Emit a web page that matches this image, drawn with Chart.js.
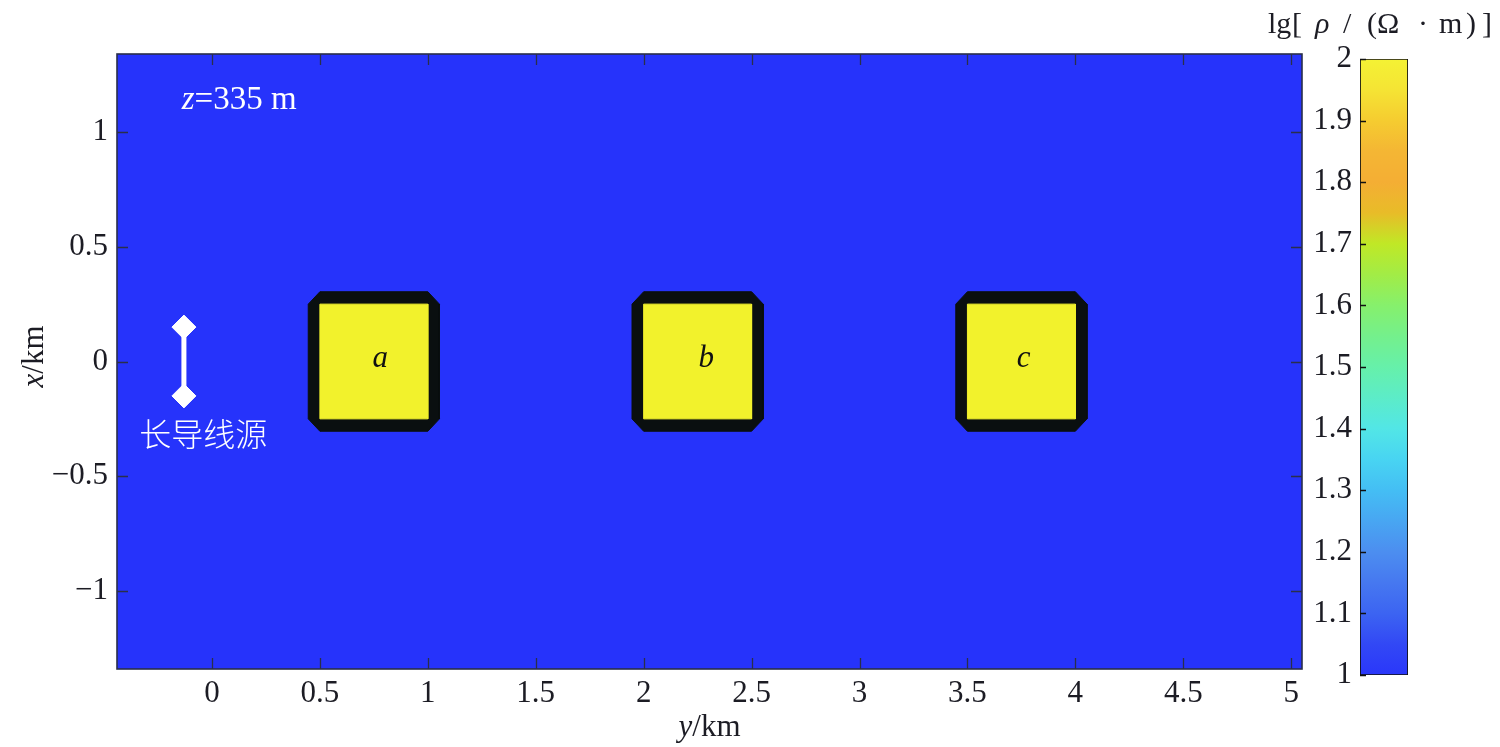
<!DOCTYPE html>
<html><head><meta charset="utf-8">
<script src="https://cdn.jsdelivr.net/npm/chart.js@4"></script>
<style>
html,body{margin:0;padding:0;background:#fff;}
#wrap{position:relative;width:1500px;height:747px;}
canvas{position:absolute;left:0;top:0;}
</style>
</head><body>
<div id="wrap"><canvas id="main" width="1500" height="747"></canvas><canvas id="cbar" width="1500" height="747"></canvas></div>
<script>
// ---- data ----
const hRange = [-0.44, 5.05];      // horizontal axis: y/km
const vRange = [-1.34, 1.34];      // vertical axis: x/km
const axisStep = 0.5;
const blockNames = ['a', 'b', 'c'];
const blockHMin = [0.5, 2.0, 3.5];
const blockHMax = [1.0, 2.5, 4.0];
const blockVMin = [-0.25, -0.25, -0.25];
const blockVMax = [0.25, 0.25, 0.25];
const frameWidth = 0.054;
const labelH = [0.78, 2.29, 3.76];
const labelV = [-0.026, -0.026, -0.026];
const sourceH = [-0.13, -0.13];
const sourceV = [0.15, -0.15];
const sourceText = '长导线源';
const sourceTextPos = [-0.04, -0.368];
const depthText = '335 m';
const depthTextPos = [-0.14, 1.107];
const cbarRange = [1, 2];
const cbarStep = 0.1;
const cbarValues = [1.0, 1.05, 1.1, 1.15, 1.2, 1.25, 1.3, 1.35, 1.4, 1.45, 1.5, 1.55, 1.6, 1.65, 1.7, 1.75, 1.8, 1.85, 1.9, 1.95, 2.0];
const cbarColors = ['#2a37fa','#3248f5','#3c64f2','#4678f0','#4c8ef0','#48a6f2','#44bef4','#48d4f2','#52e6e6','#5cecc8','#66f0aa','#74f08c','#86f06c','#a2ec46','#c0e826','#e8bc28','#f4ae34','#f4b634','#f5cc30','#f5e434','#f4f234'];

const BLUE = '#2633fb', YELLOW = '#f2f22c', FRAME = '#0a0f10', INK = '#1c1c24';
const SERIF = '"Liberation Serif","DejaVu Serif",serif';

function fmt(v){ const r = Math.round(v*100)/100; return r < 0 ? '\u2212' + Math.abs(r) : String(r); }

function drawRich(ctx, parts, x, y, align, size){
  let total = 0;
  const widths = parts.map(p => { ctx.font = (p.i ? 'italic ' : '') + size + 'px ' + (p.f || SERIF); const w = ctx.measureText(p.t).width; total += w; return w; });
  let cx = align === 'center' ? x - total/2 : align === 'right' ? x - total : x;
  ctx.textAlign = 'left';
  parts.forEach((p, k) => { ctx.font = (p.i ? 'italic ' : '') + size + 'px ' + (p.f || SERIF); ctx.fillText(p.t, cx, y); cx += widths[k]; });
}

// build block polygons from block data
const datasets = [];
blockNames.forEach((n, k) => {
  const h0 = blockHMin[k], h1 = blockHMax[k], v0 = blockVMin[k], v1 = blockVMax[k], f = frameWidth;
  const oct = [
    {x: h0 - f, y: v1}, {x: h0, y: v1 + f}, {x: h1, y: v1 + f}, {x: h1 + f, y: v1},
    {x: h1 + f, y: v0}, {x: h1, y: v0 - f}, {x: h0, y: v0 - f}, {x: h0 - f, y: v0}, {x: h0 - f, y: v1}
  ];
  const sq = [{x: h0, y: v1}, {x: h1, y: v1}, {x: h1, y: v0}, {x: h0, y: v0}, {x: h0, y: v1}];
  datasets.push({data: oct, showLine: true, fill: 'shape', backgroundColor: FRAME, borderColor: FRAME, borderWidth: 1, pointRadius: 0, tension: 0, order: 3});
  datasets.push({data: sq, showLine: true, fill: 'shape', backgroundColor: YELLOW, borderColor: YELLOW, borderWidth: 1, pointRadius: 0, tension: 0, order: 2});
});
datasets.push({
  data: sourceH.map((h, k) => ({x: h, y: sourceV[k]})),
  showLine: true, borderColor: '#ffffff', borderWidth: 5,
  pointStyle: 'rectRot', pointRadius: 12, pointBackgroundColor: '#ffffff', pointBorderColor: '#ffffff', pointBorderWidth: 1, order: 1
});

const mainPlugin = {
  id: 'mainDeco',
  beforeDraw(chart){
    const {ctx, chartArea: a} = chart;
    ctx.save(); ctx.fillStyle = BLUE; ctx.fillRect(a.left, a.top, a.right - a.left, a.bottom - a.top); ctx.restore();
  },
  afterDatasetsDraw(chart){
    const {ctx, scales: {x, y}} = chart;
    ctx.save();
    ctx.fillStyle = '#111';
    ctx.textBaseline = 'alphabetic';
    blockNames.forEach((n, k) => drawRich(ctx, [{t: n, i: true}], x.getPixelForValue(labelH[k]), y.getPixelForValue(labelV[k]), 'center', 31));
    ctx.fillStyle = '#ffffff';
    ctx.font = '300 32px "Noto Sans CJK SC"';
    ctx.textAlign = 'center';
    ctx.fillText(sourceText, x.getPixelForValue(sourceTextPos[0]), y.getPixelForValue(sourceTextPos[1]));
    drawRich(ctx, [{t: 'z', i: true}, {t: '=' + depthText}], x.getPixelForValue(depthTextPos[0]), y.getPixelForValue(depthTextPos[1]) + 2, 'left', 33);
    ctx.restore();
  },
  afterDraw(chart){
    const {ctx, chartArea: a, scales: {x, y}} = chart;
    ctx.save();
    ctx.strokeStyle = '#2a2f4a'; ctx.lineWidth = 1.3;
    const L = 11;
    ctx.beginPath();
    x.ticks.forEach(t => { const p = Math.round(x.getPixelForValue(t.value)) + 0.5; ctx.moveTo(p, a.bottom); ctx.lineTo(p, a.bottom - L); ctx.moveTo(p, a.top); ctx.lineTo(p, a.top + L); });
    y.ticks.forEach(t => { const p = Math.round(y.getPixelForValue(t.value)) + 0.5; ctx.moveTo(a.left, p); ctx.lineTo(a.left + L, p); ctx.moveTo(a.right, p); ctx.lineTo(a.right - L, p); });
    ctx.stroke();
    ctx.lineWidth = 1.6;
    ctx.strokeRect(a.left, a.top, a.right - a.left, a.bottom - a.top);
    // axis titles
    ctx.fillStyle = INK; ctx.textBaseline = 'alphabetic';
    drawRich(ctx, [{t: 'y', i: true}, {t: '/km'}], (a.left + a.right)/2, 736, 'center', 31);
    ctx.translate(43, (a.top + a.bottom)/2 - 5);
    ctx.rotate(-Math.PI/2);
    drawRich(ctx, [{t: 'x', i: true}, {t: '/km'}], 0, 0, 'center', 31);
    ctx.restore();
  }
};

new Chart(document.getElementById('main'), {
  type: 'scatter',
  data: {datasets},
  options: {
    responsive: false, animation: false, devicePixelRatio: 1, events: [],
    layout: {padding: {top: 54, right: 198, left: 0, bottom: 0}},
    plugins: {legend: {display: false}, tooltip: {enabled: false}},
    scales: {
      x: {type: 'linear', min: hRange[0], max: hRange[1],
          ticks: {stepSize: axisStep, includeBounds: false, callback: fmt, color: INK, font: {family: SERIF, size: 31}, padding: 6, maxRotation: 0},
          grid: {display: false, drawTicks: false}, border: {display: false},
          afterFit(s){ s.height = 78; }},
      y: {type: 'linear', min: vRange[0], max: vRange[1],
          ticks: {stepSize: axisStep, includeBounds: false, callback: fmt, color: INK, font: {family: SERIF, size: 31}, padding: 9},
          grid: {display: false, drawTicks: false}, border: {display: false},
          afterFit(s){ s.width = 117; }}
    }
  },
  plugins: [mainPlugin]
});

// ---- colorbar ----
function cbarGradient(c){
  const chart = c.chart;
  if (!chart.chartArea) return cbarColors[0];
  const ys = chart.scales.y;
  const p0 = ys.getPixelForValue(cbarRange[0]), p1 = ys.getPixelForValue(cbarRange[1]);
  const g = chart.ctx.createLinearGradient(0, p0, 0, p1);
  cbarValues.forEach((v, k) => g.addColorStop((v - cbarRange[0])/(cbarRange[1] - cbarRange[0]), cbarColors[k]));
  return g;
}
const cbarTitle = [
  {t: 'lg', dx: 0}, {t: '[', dx: 24}, {t: 'ρ', i: true, dx: 47}, {t: '/', dx: 75},
  {t: '(', dx: 99}, {t: 'Ω', dx: 109}, {t: '·', dx: 150}, {t: 'm', dx: 171}, {t: ')', dx: 198}, {t: ']', dx: 214}
];
const cbarPlugin = {
  id: 'cbarDeco',
  afterDraw(chart){
    const {ctx, chartArea: a, scales: {y}} = chart;
    ctx.save();
    ctx.strokeStyle = '#111'; ctx.lineWidth = 1.3;
    ctx.beginPath();
    y.ticks.forEach(t => { const p = Math.round(y.getPixelForValue(t.value)) + 0.5; ctx.moveTo(a.left, p); ctx.lineTo(a.left + 6, p); });
    ctx.stroke();
    ctx.fillStyle = INK; ctx.textBaseline = 'alphabetic'; ctx.textAlign = 'left';
    cbarTitle.forEach(p => { ctx.font = (p.i ? 'italic ' : '') + '30px ' + SERIF; ctx.fillText(p.t, 1268 + p.dx, 33); });
    ctx.restore();
  }
};
new Chart(document.getElementById('cbar'), {
  type: 'bar',
  data: {labels: ['lg'], datasets: [{data: [cbarRange], backgroundColor: cbarGradient, borderColor: '#111', borderWidth: 1.2, borderSkipped: false, barPercentage: 1, categoryPercentage: 1}]},
  options: {
    responsive: false, animation: false, devicePixelRatio: 1, events: [],
    layout: {padding: {top: 59, right: 92, left: 0, bottom: 72}},
    plugins: {legend: {display: false}, tooltip: {enabled: false}},
    scales: {
      x: {display: false},
      y: {min: cbarRange[0], max: cbarRange[1],
          ticks: {stepSize: cbarStep, callback: v => String(Math.round(v*10)/10), color: INK, font: {family: SERIF, size: 31}, padding: 8},
          grid: {display: false, drawTicks: false}, border: {display: false},
          afterFit(s){ s.width = 1360; }}
    }
  },
  plugins: [cbarPlugin]
});
</script>
</body></html>
